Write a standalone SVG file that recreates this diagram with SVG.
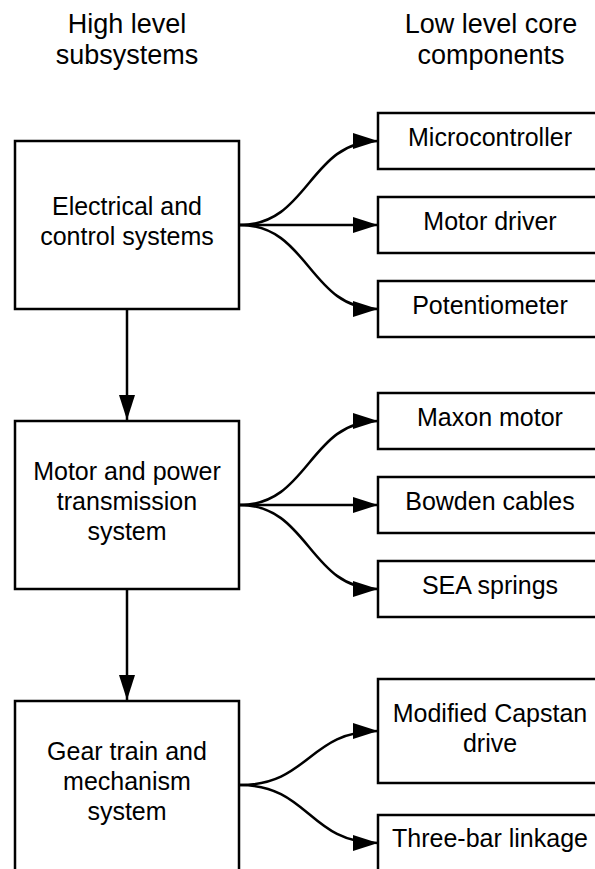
<svg xmlns="http://www.w3.org/2000/svg" width="595" height="869" viewBox="0 0 595 869">
<style>
.box{fill:#fff;stroke:#000;stroke-width:2.5}
.t{font-family:"Liberation Sans",Arial,sans-serif;font-size:25px;fill:#000;text-anchor:middle}
.h{font-family:"Liberation Sans",Arial,sans-serif;font-size:27px;fill:#000;text-anchor:middle}
.c{fill:none;stroke:#000;stroke-width:2.5;marker-end:url(#ah)}
</style>
<defs>
<marker id="ah" markerUnits="userSpaceOnUse" markerWidth="26" markerHeight="18" refX="25" refY="8" orient="auto" viewBox="0 0 26 16">
<path d="M0,0 L25,8 L0,16 z" fill="#000"/>
</marker>
</defs>
<rect width="595" height="869" fill="#fff"/>
<g id="headers">
<text class="h" x="127" y="33">High level</text>
<text class="h" x="127" y="64">subsystems</text>
<text class="h" x="491" y="33">Low level core</text>
<text class="h" x="491" y="64">components</text>
</g>
<g id="connectors">
<path class="c" d="M127,309 L127,420"/>
<path class="c" d="M127,589 L127,700"/>
<path class="c" d="M240,225 C309,225 309,141 378,141"/>
<path class="c" d="M240,225 L378,225"/>
<path class="c" d="M240,225 C309,225 309,309 378,309"/>
<path class="c" d="M240,505 C309,505 309,421 378,421"/>
<path class="c" d="M240,505 L378,505"/>
<path class="c" d="M240,505 C309,505 309,589 378,589"/>
<path class="c" d="M240,785 C309,785 309,731 378,731"/>
<path class="c" d="M240,785 C309,785 309,843 378,843"/>
</g>
<g id="electrical">
<rect class="box" x="15" y="141" width="224" height="168"/>
<text class="t" x="127" y="215">Electrical and</text>
<text class="t" x="127" y="245">control systems</text>
</g>
<g id="motor">
<rect class="box" x="15" y="421" width="224" height="168"/>
<text class="t" x="127" y="480">Motor and power</text>
<text class="t" x="127" y="510">transmission</text>
<text class="t" x="127" y="540">system</text>
</g>
<g id="gear">
<rect class="box" x="15" y="701" width="224" height="180"/>
<text class="t" x="127" y="760">Gear train and</text>
<text class="t" x="127" y="790">mechanism</text>
<text class="t" x="127" y="820">system</text>
</g>
<g id="microcontroller">
<rect class="box" x="378" y="113" width="226" height="56"/>
<text class="t" x="490" y="146">Microcontroller</text>
</g>
<g id="motordriver">
<rect class="box" x="378" y="197" width="226" height="56"/>
<text class="t" x="490" y="230">Motor driver</text>
</g>
<g id="potentiometer">
<rect class="box" x="378" y="281" width="226" height="56"/>
<text class="t" x="490" y="314">Potentiometer</text>
</g>
<g id="maxon">
<rect class="box" x="378" y="393" width="226" height="56"/>
<text class="t" x="490" y="426">Maxon motor</text>
</g>
<g id="bowden">
<rect class="box" x="378" y="477" width="226" height="56"/>
<text class="t" x="490" y="510">Bowden cables</text>
</g>
<g id="sea">
<rect class="box" x="378" y="561" width="226" height="56"/>
<text class="t" x="490" y="594">SEA springs</text>
</g>
<g id="capstan">
<rect class="box" x="378" y="679" width="226" height="104"/>
<text class="t" x="490" y="722">Modified Capstan</text>
<text class="t" x="490" y="752">drive</text>
</g>
<g id="threebar">
<rect class="box" x="378" y="815" width="226" height="70"/>
<text class="t" x="490" y="847">Three-bar linkage</text>
</g>
</svg>
